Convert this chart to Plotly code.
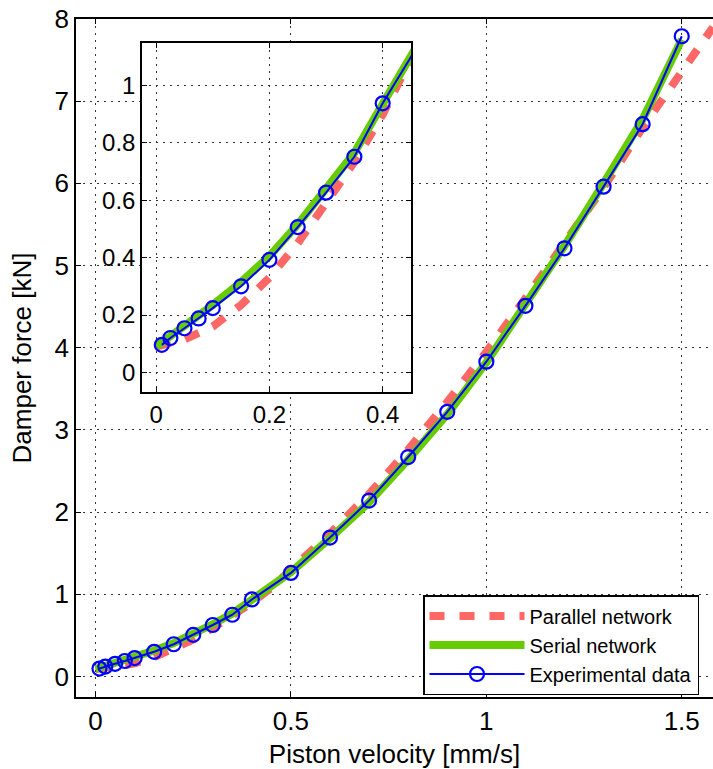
import plotly.graph_objects as go

# experimental measurements
exp_v = [0.01, 0.025, 0.05, 0.075, 0.1, 0.15, 0.2, 0.25, 0.3, 0.35, 0.4,
         0.5, 0.6, 0.7, 0.8, 0.9, 1.0, 1.1, 1.2, 1.3, 1.4, 1.5]
exp_f = [0.096, 0.12, 0.154, 0.188, 0.224, 0.30, 0.392, 0.506, 0.626, 0.751, 0.937,
         1.26, 1.69, 2.14, 2.67, 3.22, 3.83, 4.51, 5.21, 5.96, 6.72, 7.79]

# parallel network model
par_v = [0.0, 0.05, 0.1, 0.15, 0.2, 0.25, 0.3, 0.35, 0.4, 0.45, 0.5,
         0.6, 0.7, 0.8, 0.9, 1.0, 1.1, 1.2, 1.3, 1.4, 1.5, 1.58]
par_f = [0.09, 0.115, 0.16, 0.235, 0.33, 0.45, 0.59, 0.733, 0.898, 1.08, 1.29,
         1.74, 2.22, 2.76, 3.34, 3.95, 4.6, 5.27, 5.95, 6.68, 7.38, 7.9]

# serial network model
ser_v = [0.0, 0.05, 0.1, 0.15, 0.2, 0.25, 0.3, 0.35, 0.4, 0.45, 0.5,
         0.6, 0.7, 0.8, 0.9, 1.0, 1.1, 1.2, 1.3, 1.4, 1.5]
ser_f = [0.09, 0.16, 0.235, 0.315, 0.405, 0.515, 0.635, 0.765, 0.935, 1.10, 1.27,
         1.68, 2.12, 2.64, 3.19, 3.82, 4.52, 5.24, 6.0, 6.78, 7.75]

RED = "#ff6666"
GREEN = "#66cc00"
BLUE = "#0000ff"
FONT = "Liberation Sans"
W, H = 713, 769

fig = go.Figure()

for xa, ya, show in (("x", "y", True), ("x2", "y2", False)):
    fig.add_trace(go.Scatter(
        x=par_v, y=par_f, mode="lines", name="Parallel network",
        line=dict(color=RED, width=8, dash="15px,15px"),
        xaxis=xa, yaxis=ya, showlegend=show,
    ))
    fig.add_trace(go.Scatter(
        x=ser_v, y=ser_f, mode="lines", name="Serial network",
        line=dict(color=GREEN, width=8),
        xaxis=xa, yaxis=ya, showlegend=show,
    ))
    fig.add_trace(go.Scatter(
        x=exp_v, y=exp_f, mode="lines+markers", name="Experimental data",
        line=dict(color=BLUE, width=2),
        marker=dict(symbol="circle-open", size=14, color=BLUE, line=dict(width=2.2, color=BLUE)),
        xaxis=xa, yaxis=ya, showlegend=show,
    ))

grid = dict(showgrid=True, gridcolor="#333333", gridwidth=1, griddash="2px,5px",
            zeroline=False, showline=True, linecolor="black", linewidth=1.5,
            ticks="inside", ticklen=5, tickcolor="black", automargin=False)

fig.update_layout(
    width=W, height=H,
    margin=dict(l=0, r=0, t=0, b=0, autoexpand=False),
    paper_bgcolor="white", plot_bgcolor="white",
    font=dict(family=FONT, size=26, color="black"),
    xaxis=dict(
        **grid, domain=[76 / W, 1.0], range=[-0.05, 1.58],
        tickvals=[0, 0.5, 1, 1.5], ticktext=["0", "0.5", "1", "1.5"],
        mirror="ticks", anchor="y",
        title=dict(text="Piston velocity [mm/s]", standoff=10, font=dict(size=26)),
    ),
    yaxis=dict(
        **grid, domain=[1 - 697 / H, 1 - 19 / H], range=[-0.25, 8.0],
        tickvals=list(range(9)), anchor="x",
        title=dict(text="Damper force [kN]", standoff=15, font=dict(size=26)),
    ),
    xaxis2=dict(
        **grid, domain=[142 / W, 411 / W], range=[-0.025, 0.45],
        tickvals=[0, 0.2, 0.4], ticktext=["0", "0.2", "0.4"],
        mirror="ticks", anchor="y2", tickfont=dict(size=24),
    ),
    yaxis2=dict(
        **grid, domain=[1 - 392 / H, 1 - 43 / H], range=[-0.068, 1.147],
        tickvals=[0, 0.2, 0.4, 0.6, 0.8, 1.0], ticktext=["0", "0.2", "0.4", "0.6", "0.8", "1"],
        mirror="ticks", anchor="x2", tickfont=dict(size=24),
    ),
    legend=dict(
        x=423 / W, y=1 - 595 / H, xanchor="left", yanchor="top",
        bgcolor="white", bordercolor="black", borderwidth=1.5,
        font=dict(size=20), itemwidth=95, tracegroupgap=0,
    ),
    showlegend=True,
)

# white backing for the inset so the main grid does not show through
fig.add_shape(type="rect", xref="x2 domain", yref="y2 domain", x0=0, x1=1, y0=0, y1=1,
              fillcolor="white", line=dict(width=0), layer="below")

# drop the default page margin so the figure sits at the window corner
fig.write_html("out.html", config={"displayModeBar": False},
               post_script="document.body.style.margin='0px';")
